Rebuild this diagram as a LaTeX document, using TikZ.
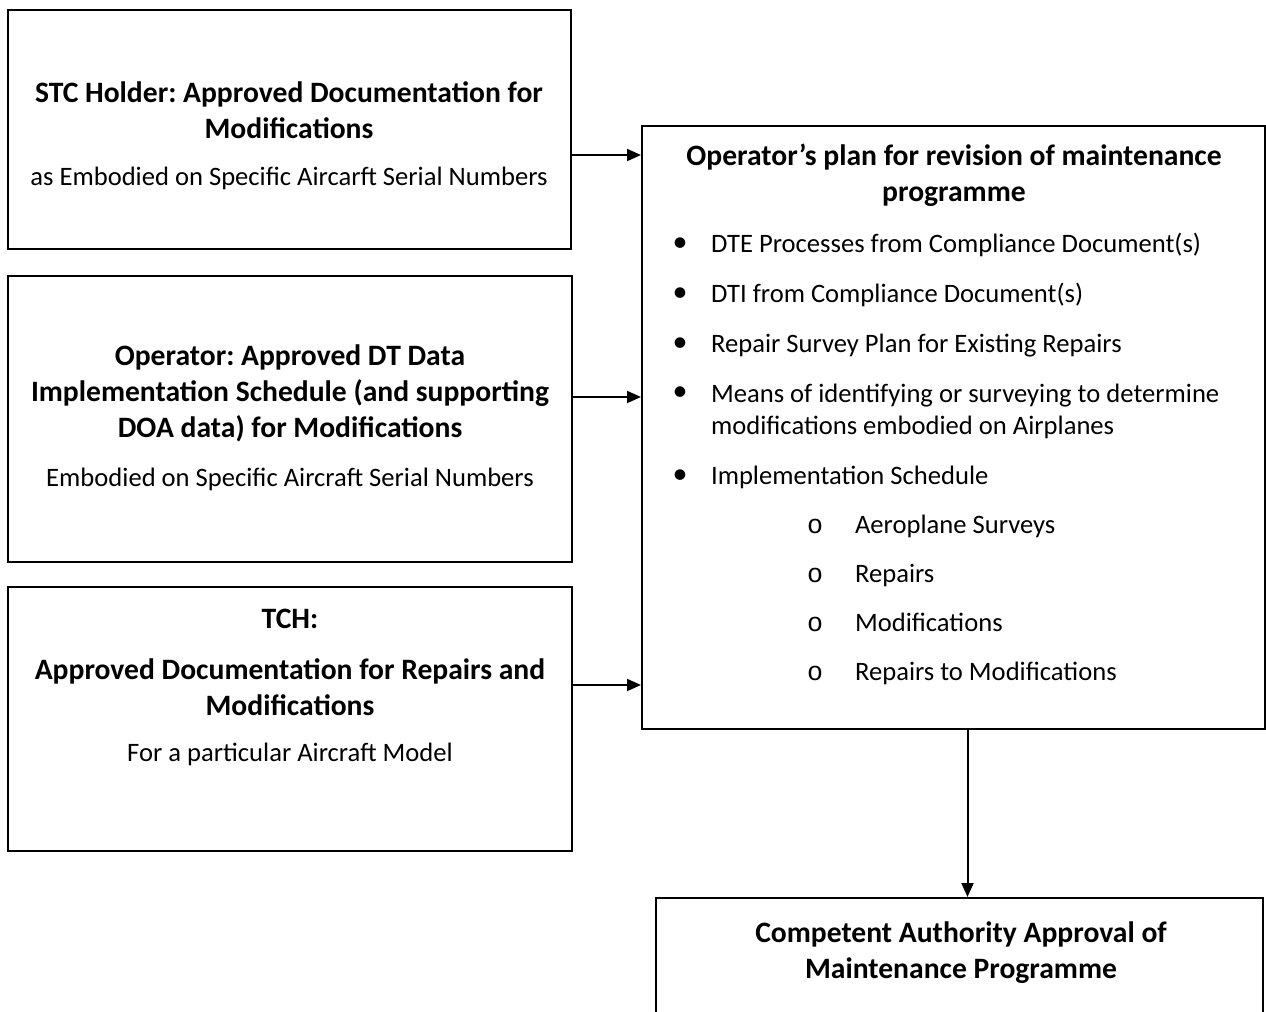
\documentclass[tikz,border=0pt]{standalone}
\usepackage{fontspec}
\setmainfont{Carlito}
\setmonofont{Liberation Mono}
\usetikzlibrary{arrows.meta,fit}
\frenchspacing

\begin{document}
\begin{tikzpicture}[x=0.5pt, y=-0.5pt,
    box/.style={draw, line width=1pt, inner sep=0pt},
    title/.style={align=center, font=\fontsize{14.8}{18}\selectfont\bfseries},
    body/.style={align=center, font=\fontsize{13.3}{16}\selectfont},
    item/.style={align=left, anchor=mid west, font=\fontsize{13.3}{16}\selectfont},
    arrow/.style={line width=1pt, -{Triangle[length=7pt, width=6pt]}}]
  \useasboundingbox (0,0) rectangle (1266,1012);
  \clip (0,0) rectangle (1266,1012);

  % boxes
  \node[box, fit={(8,10) (571,249)}] (stc) {};
  \node[box, fit={(8,276) (572,562)}] (oper) {};
  \node[box, fit={(8,587) (572,851)}] (tch) {};
  \node[box, fit={(642,126) (1265,729)}] (plan) {};
  \node[box, fit={(656,898) (1263,1100)}] (approval) {};

  % left texts
  \node[title] at (289,110) {STC Holder: Approved Documentation for\\ Modifications};
  \node[body] at (289,178) {as Embodied on Specific Aircarft Serial Numbers};
  \node[title] at (290,393) {Operator: Approved DT Data\\ Implementation Schedule (and supporting\\ DOA data) for Modifications};
  \node[body] at (290,479) {Embodied on Specific Aircraft Serial Numbers};
  \node[title] at (290,619) {TCH:};
  \node[title] at (290,687) {Approved Documentation for Repairs and\\ Modifications};
  \node[body] at (290,754) {For a particular Aircraft Model};

  % plan texts
  \node[title] at (954,175) {Operator’s plan for revision of maintenance\\ programme};
  \foreach \y/\t in {248/DTE Processes from Compliance Document(s),
                     298/DTI from Compliance Document(s),
                     348/Repair Survey Plan for Existing Repairs,
                     480/Implementation Schedule}
    \node[item] at (704,\y) {\t};
  \node[item] at (704,430) {Means of identifying or surveying to determine\\ modifications embodied on Airplanes};
  \foreach \y in {245, 295, 345, 394, 477}
    \node[body, font=\fontsize{15}{16}\selectfont] at (680,\y) {\textbullet};
  \foreach \y/\t in {529/Aeroplane Surveys, 578/Repairs,
                     627/Modifications, 676/Repairs to Modifications}
  {
    \node[item] at (848,\y) {\t};
    \node[body, font=\fontsize{13.3}{16}\selectfont\ttfamily] at (815,\y-3) {o};
  }

  % approval text
  \node[title] at (961,953) {Competent Authority Approval of\\ Maintenance Programme};

  % arrows
  \draw[arrow] (stc.east |- 0,155) -- (plan.west |- 0,155);
  \draw[arrow] (oper.east |- 0,397) -- (plan.west |- 0,397);
  \draw[arrow] (tch.east |- 0,685) -- (plan.west |- 0,685);
  \draw[arrow] ([xshift=7pt]plan.south) -- ([xshift=7pt]plan.south |- approval.north);
\end{tikzpicture}
\end{document}
